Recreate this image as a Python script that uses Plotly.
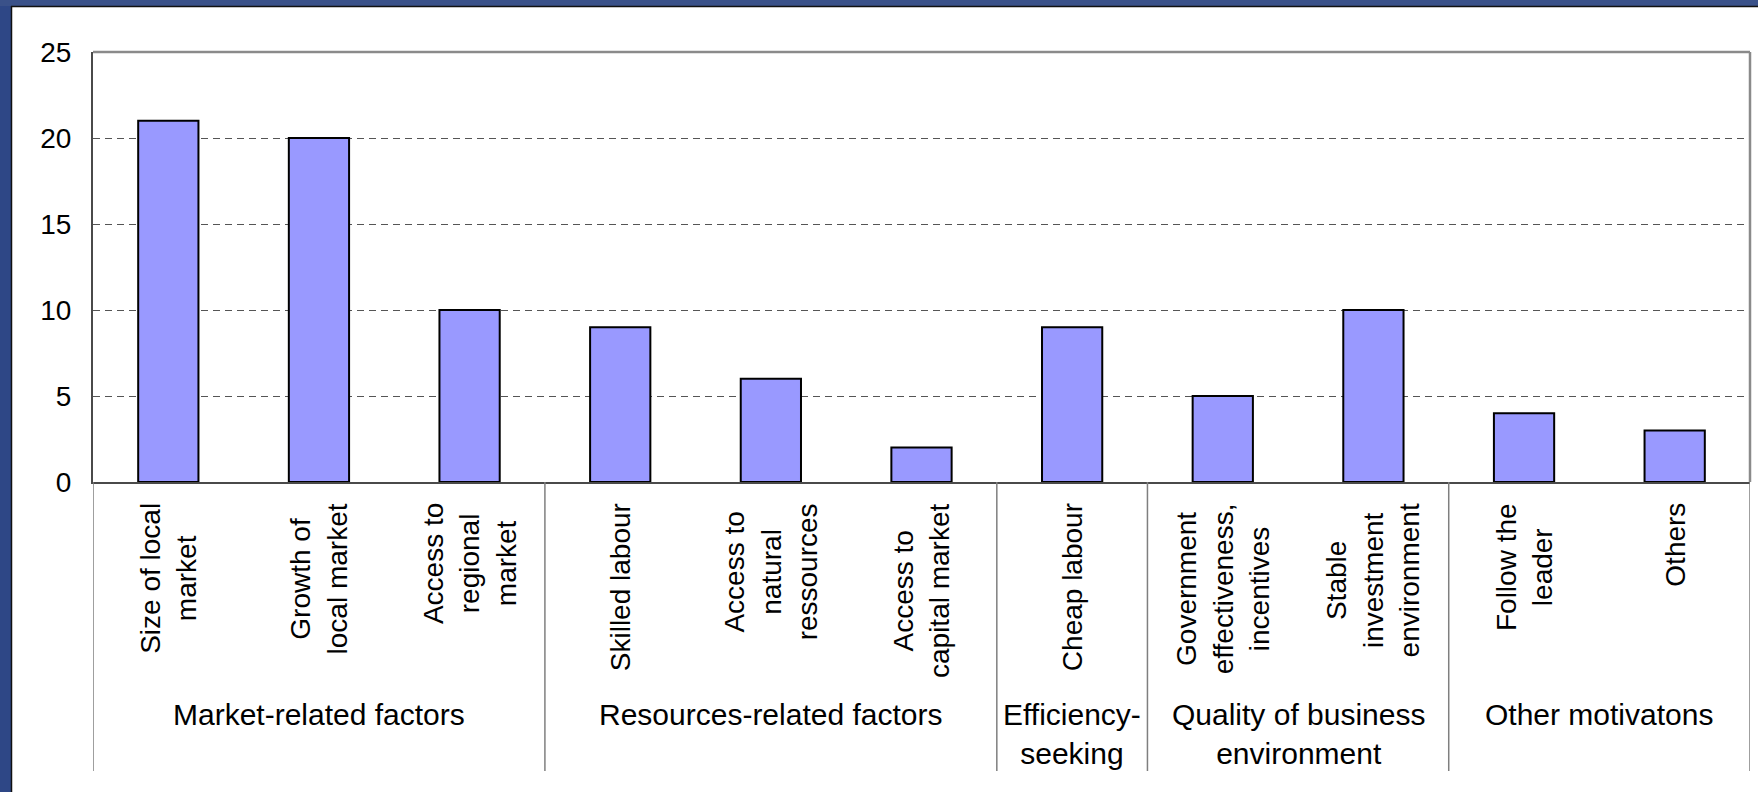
import plotly.graph_objects as go

# ---- data ----
categories = ["Size of local market", "Growth of local market", "Access to regional market",
              "Skilled labour", "Access to natural ressources", "Access to capital market",
              "Cheap labour", "Government effectiveness, incentives", "Stable investment environment",
              "Follow the leader", "Others"]
tick_labels = ["Size of local<br>market", "Growth of<br>local market", "Access to<br>regional<br>market",
               "Skilled labour", "Access to<br>natural<br>ressources", "Access to<br>capital market",
               "Cheap labour", "Government<br>effectiveness,<br>incentives", "Stable<br>investment<br>environment",
               "Follow the<br>leader", "Others"]
values = [21, 20, 10, 9, 6, 2, 9, 5, 10, 4, 3]
groups = ["Market-related factors", "Resources-related factors", "Efficiency-<br>seeking",
          "Quality of business<br>environment", "Other motivatons"]
group_sizes = [3, 3, 1, 2, 2]
y_ticks = [0, 5, 10, 15, 20, 25]

# ---- geometry ----
W, H = 1758, 792
L, R, T, B = 93, 8, 52, 310
PW, PH = W - L - R, H - T - B
FONT = "Liberation Sans, Arial, sans-serif"


def px_x(px):
    return (px - L) / PW


def py_y(py):
    return (H - B - py) / PH


fig = go.Figure()
fig.add_trace(go.Bar(
    x=categories, y=values, width=0.4,
    marker=dict(color="#9999FF", line=dict(color="#000000", width=2)),
    hoverinfo="x+y",
))

annotations = []
for cat, lab in zip(categories, tick_labels):
    annotations.append(dict(
        x=cat, xref="x", y=py_y(501), yref="paper", text=lab, textangle=-90,
        xanchor="center", yanchor="top", align="center", showarrow=False,
        font=dict(family=FONT, size=28, color="#000000"),
    ))

shapes = []
start = 0
bounds = [-0.5]
for g, n in zip(groups, group_sizes):
    center = start + (n - 1) / 2
    annotations.append(dict(
        x=center, xref="x", y=py_y(696), yref="paper", text=g,
        xanchor="center", yanchor="top", align="center", showarrow=False,
        font=dict(family=FONT, size=30, color="#000000"),
    ))
    start += n
    bounds.append(start - 0.5)

for b in bounds:
    shapes.append(dict(type="line", xref="x", yref="paper", x0=b, x1=b, y0=0, y1=py_y(771),
                       line=dict(color="#7f7f7f", width=1.5)))

# plot frame top/right (gray)
shapes.append(dict(type="line", xref="paper", yref="paper", x0=0, x1=1, y0=1, y1=1,
                   line=dict(color="#8a8a8a", width=2.5), layer="above"))
shapes.append(dict(type="line", xref="paper", yref="paper", x0=1, x1=1, y0=0, y1=1,
                   line=dict(color="#8a8a8a", width=2.5), layer="above"))

# slide frame (blue strips)
shapes.append(dict(type="rect", xref="paper", yref="paper", x0=px_x(0), x1=px_x(11),
                   y0=py_y(H), y1=py_y(0), fillcolor="#2E4786", line=dict(width=0), layer="above"))
shapes.append(dict(type="rect", xref="paper", yref="paper", x0=px_x(0), x1=px_x(W),
                   y0=py_y(6), y1=py_y(0), fillcolor="#3A5189", line=dict(width=0), layer="above"))
shapes.append(dict(type="line", xref="paper", yref="paper", x0=px_x(11.5), x1=px_x(11.5),
                   y0=py_y(H), y1=py_y(6), line=dict(color="#111111", width=1.5), layer="above"))
shapes.append(dict(type="line", xref="paper", yref="paper", x0=px_x(11), x1=px_x(W),
                   y0=py_y(6.5), y1=py_y(6.5), line=dict(color="#111111", width=1.5), layer="above"))

fig.update_layout(
    width=W, height=H,
    margin=dict(l=L, r=R, t=T, b=B, pad=0),
    paper_bgcolor="#FFFFFF", plot_bgcolor="#FFFFFF",
    showlegend=False,
    annotations=annotations,
    shapes=shapes,
    bargap=0.6,
    xaxis=dict(
        type="category", range=[-0.5, len(categories) - 0.5],
        showticklabels=False, ticks="", showgrid=False, zeroline=False,
        showline=True, linecolor="#4a4a4a", linewidth=2, fixedrange=True,
    ),
    yaxis=dict(
        range=[0, 25], tickvals=y_ticks, ticktext=[str(v) for v in y_ticks],
        ticks="", ticklabelstandoff=14,
        tickfont=dict(family=FONT, size=28, color="#000000"),
        showgrid=True, gridcolor="#555555", gridwidth=1, griddash="7px,5px",
        zeroline=False, showline=True, linecolor="#4a4a4a", linewidth=2, fixedrange=True,
    ),
    font=dict(family=FONT, color="#000000"),
)

fig.write_html("out.html", config={"displayModeBar": False},
               post_script="document.body.style.margin='0';document.body.style.overflow='hidden';")
